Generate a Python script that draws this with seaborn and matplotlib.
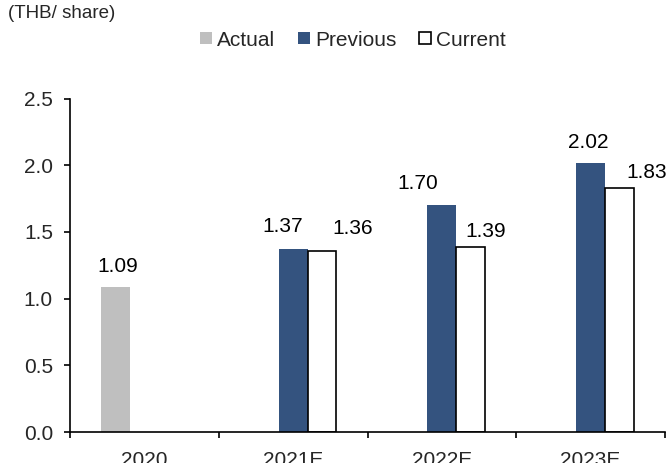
import matplotlib
matplotlib.use("Agg")
import matplotlib.pyplot as plt
from matplotlib.patches import Patch
from matplotlib.ticker import FixedLocator, MultipleLocator, FormatStrFormatter
import pandas as pd
import seaborn as sns

# Dividend per share, THB
years = ["2020", "2021E", "2022E", "2023E"]
series = ["Actual", "Previous", "Current"]
actual = [1.09, None, None, None]
previous = [None, 1.37, 1.70, 2.02]
current = [None, 1.36, 1.39, 1.83]

colors = {"Actual": "#BFBFBF", "Previous": "#34537F", "Current": "#FFFFFF"}

rows = []
for name, vals in zip(series, [actual, previous, current]):
    for yr, v in zip(years, vals):
        if v is not None:
            rows.append({"year": yr, "series": name, "value": v})
df = pd.DataFrame(rows)

sns.set_style("ticks")
plt.rcParams["font.family"] = ["Liberation Sans", "DejaVu Sans"]
FS = 15

fig = plt.figure(figsize=(6.67, 4.63), dpi=100)
ax = fig.add_axes([70 / 667, 1 - 432 / 463, 595 / 667, (432 - 98.5) / 463])

sns.barplot(data=df, x="year", y="value", hue="series", order=years,
            hue_order=series, palette=colors, width=0.58, gap=0,
            saturation=1, errorbar=None, legend=False, ax=ax)

# outline style per series
for name, cont in zip(series, ax.containers):
    for bar in cont:
        if name == "Current":
            bar.set_edgecolor("black")
            bar.set_linewidth(1.2)
        else:
            bar.set_edgecolor("none")
            bar.set_linewidth(0)

# value labels: pixel nudges (dx, dy above bar top)
nudges = {
    "Actual": [(2, 15)],
    "Previous": [(-10, 17), (-24, 16), (-2, 15)],
    "Current": [(31, 17), (15, 10), (27, 10)],
}
for name, cont in zip(series, ax.containers):
    for bar, (dx, dy) in zip(cont, nudges[name]):
        h = bar.get_height()
        ax.annotate(f"{h:.2f}", xy=(bar.get_x() + bar.get_width() / 2, h),
                    xytext=(dx * 0.72, dy * 0.72), textcoords="offset points",
                    ha="center", va="baseline", fontsize=FS, color="black",
                    annotation_clip=False)

ax.set_xlim(-0.5, 3.5)
ax.set_ylim(0, 2.5)
ax.yaxis.set_major_locator(MultipleLocator(0.5))
ax.yaxis.set_major_formatter(FormatStrFormatter("%.1f"))
ax.set_xlabel("")
ax.set_ylabel("")

ax.xaxis.set_minor_locator(FixedLocator([-0.5, 0.5, 1.5, 2.5, 3.5]))
ax.tick_params(axis="x", which="major", length=0, pad=14, labelsize=FS)
ax.tick_params(axis="x", which="minor", length=4.3, width=1.2, direction="out", color="black")
ax.tick_params(axis="y", which="major", length=4.3, width=1.2, direction="out", pad=8,
               labelsize=FS, color="black")

sns.despine(ax=ax, top=True, right=True)
for side in ("left", "bottom"):
    ax.spines[side].set_linewidth(1.2)
    ax.spines[side].set_color("black")

fig.text(8 / 667, 1 - 14 / 463, "(THB/ share)", ha="left", va="center", fontsize=13.5)

handles = [Patch(facecolor=colors[s], edgecolor="black" if s == "Current" else "none",
                 linewidth=1.2 if s == "Current" else 0) for s in series]
fig.legend(handles, series, loc="center", bbox_to_anchor=(353 / 667, 1 - 40 / 463),
           ncol=3, frameon=False, fontsize=FS, handlelength=0.55, handleheight=0.55,
           handletextpad=0.25, columnspacing=1.1, borderpad=0)

fig.savefig("out.png", dpi=100)
